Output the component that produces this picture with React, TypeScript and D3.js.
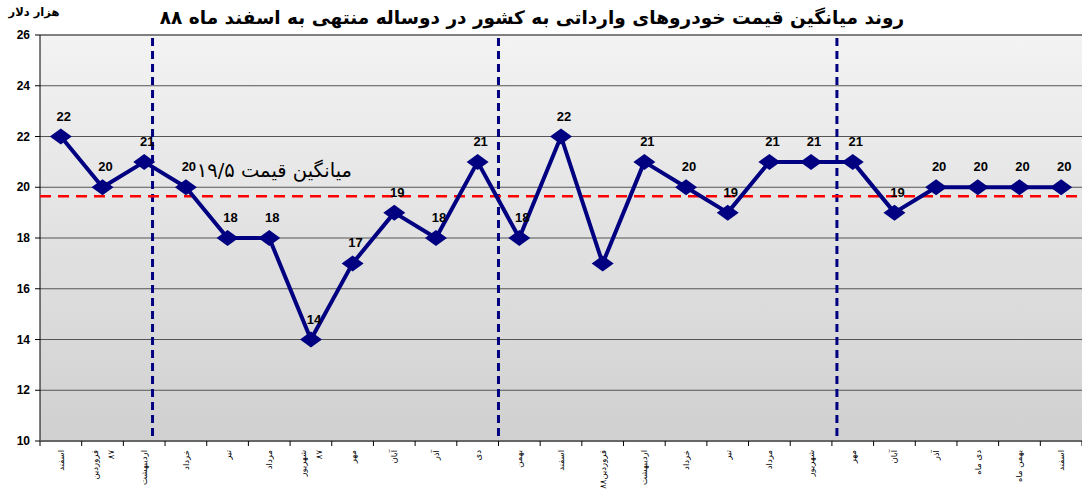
import React from "react";
import * as d3 from "d3";

const categories: string[][] = [
  ["اسفند"],
  ["فروردین", "۸۷"],
  ["اردیبهشت"],
  ["خرداد"],
  ["تیر"],
  ["مرداد"],
  ["شهریور", "۸۷"],
  ["مهر"],
  ["آبان"],
  ["آذر"],
  ["دی"],
  ["بهمن"],
  ["اسفند"],
  ["فروردین۸۸"],
  ["اردیبهشت"],
  ["خرداد"],
  ["تیر"],
  ["مرداد"],
  ["شهریور"],
  ["مهر"],
  ["آبان"],
  ["آذر"],
  ["دی ماه"],
  ["بهمن ماه"],
  ["اسفند"],
];

const prices: number[] = [22, 20, 21, 20, 18, 18, 14, 17, 19, 18, 21, 18, 22, 17, 21, 20, 19, 21, 21, 21, 19, 20, 20, 20, 20];
const showLabel: boolean[] = prices.map((_, i) => i !== 13);
const yTicks: number[] = [10, 12, 14, 16, 18, 20, 22, 24, 26];
const separators: number[] = [2.7, 11, 19.12];
const averageValue = 19.65;
const averageText = "میانگین قیمت ۱۹/۵";
const title = "روند میانگین قیمت خودروهای وارداتی به کشور در دوساله منتهی به اسفند ماه ۸۸";
const unitText = "هزار دلار";

const W = 1082;
const H = 489;
const left = 40;
const right = 1082;
const top = 35;
const bottom = 441;

export default function App() {
  const x = d3.scaleBand<number>().domain(d3.range(prices.length)).range([left, right]).padding(0);
  const xLin = d3.scaleLinear().domain([0, prices.length]).range([left, right]);
  const y = d3.scaleLinear().domain([10, 26]).range([bottom, top]);
  const cx = (i: number) => (x(i) as number) + x.bandwidth() / 2;
  const line = d3.line<number>().x((_, i) => cx(i)).y((d) => y(d));
  const arabicFont = "'DejaVu Sans', sans-serif";
  const numFont = "'Liberation Sans', Arial, sans-serif";

  return (
    <div style={{ position: "absolute", left: 0, top: 0 }}>
      <svg width={W} height={H} viewBox={`0 0 ${W} ${H}`} style={{ display: "block", background: "#fff" }}>
        <defs>
          <linearGradient id="bg" x1="0" y1="0" x2="0" y2="1">
            <stop offset="0" stopColor="#f3f3f3" />
            <stop offset="1" stopColor="#d0d0d0" />
          </linearGradient>
          <clipPath id="plotClip">
            <rect x={left} y={top - 20} width={right - left} height={bottom - top + 20} />
          </clipPath>
        </defs>
        <text x={532} y={24} textAnchor="middle" fontFamily={arabicFont} fontWeight="bold" fontSize={18.5} fill="#000">
          {title}
        </text>
        <text x={34} y={16} textAnchor="middle" fontFamily={arabicFont} fontWeight="bold" fontSize={11.5} fill="#000">
          {unitText}
        </text>
        <rect x={left} y={top} width={right - left} height={bottom - top} fill="url(#bg)" />
        {yTicks.map((t) => (
          <g key={t}>
            <line x1={left} x2={right} y1={y(t)} y2={y(t)} stroke={t === 26 ? "#808080" : "#555"} strokeWidth={t === 26 ? 2 : 1} />
            <line x1={left - 5} x2={left} y1={y(t)} y2={y(t)} stroke="#000" strokeWidth={1} />
            <text x={30} y={y(t) + 4} textAnchor="end" fontFamily={numFont} fontWeight="bold" fontSize={12} fill="#000">
              {t}
            </text>
          </g>
        ))}
        <line x1={left} x2={left} y1={top} y2={bottom} stroke="#000" strokeWidth={1} />
        <line x1={left} x2={right} y1={bottom} y2={bottom} stroke="#666" strokeWidth={2} />
        {d3.range(prices.length + 1).map((i) => (
          <line key={i} x1={xLin(i)} x2={xLin(i)} y1={bottom} y2={bottom + 5} stroke="#000" strokeWidth={1} />
        ))}
        {separators.map((s, i) => (
          <line key={i} x1={xLin(s)} x2={xLin(s)} y1={top + 3} y2={bottom - 3} stroke="#000080" strokeWidth={3} strokeDasharray="8 5" />
        ))}
        <line x1={left} x2={right} y1={y(averageValue)} y2={y(averageValue)} stroke="#ff0000" strokeWidth={2.5} strokeDasharray="11 7" />
        <text x={352} y={177} textAnchor="end" fontFamily={arabicFont} fontSize={19.5} fill="#000" letterSpacing={0.5}>
          {averageText}
        </text>
        <g clipPath="url(#plotClip)">
          <path d={line(prices) ?? ""} fill="none" stroke="#000080" strokeWidth={4} strokeLinejoin="round" />
          {prices.map((v, i) => (
            <path
              key={i}
              d={`M${cx(i)},${y(v) - 8}L${cx(i) + 11},${y(v)}L${cx(i)},${y(v) + 8}L${cx(i) - 11},${y(v)}Z`}
              fill="#000080"
            />
          ))}
        </g>
        {prices.map((v, i) =>
          showLabel[i] ? (
            <text key={i} x={cx(i) + 3} y={y(v) - 16} textAnchor="middle" fontFamily={numFont} fontWeight="bold" fontSize={13} fill="#000">
              {v}
            </text>
          ) : null
        )}
        {categories.map((lines, i) => (
          <g key={i} transform={`translate(${cx(i)},${bottom + 9}) rotate(-90)`}>
            {lines.map((l, j) => (
              <text
                key={j}
                x={0}
                y={(j - (lines.length - 1) / 2) * 16 + 3}
                textAnchor="end"
                fontFamily={arabicFont}
                fontSize={8.5}
                fill="#000"
              >
                {l}
              </text>
            ))}
          </g>
        ))}
      </svg>
    </div>
  );
}
